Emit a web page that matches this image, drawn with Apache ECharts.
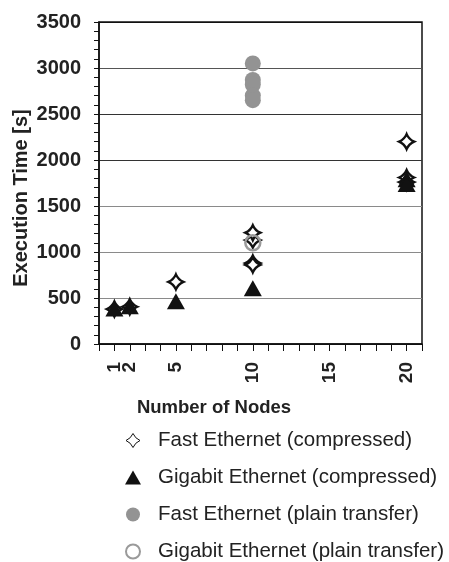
<!DOCTYPE html>
<html>
<head>
<meta charset="utf-8">
<script src="https://cdn.jsdelivr.net/npm/echarts@6/dist/echarts.min.js"></script>
<style>
  html, body { margin: 0; padding: 0; background: #fff; }
  #main { width: 449px; height: 562px; }
</style>
</head>
<body>
<div id="main"></div>
<script>
// [nodes, seconds]
var fastCompressed = [[1, 380], [2, 405], [5, 675], [10, 1130], [10, 1210], [10, 880], [10, 860], [20, 2200], [20, 1810], [20, 1760]];
var gigaCompressed = [[1, 385], [2, 410], [5, 465], [10, 605], [20, 1790], [20, 1740]];
var fastPlain = [[10, 3050], [10, 2870], [10, 2820], [10, 2700], [10, 2650]];
var gigaPlain = [[10, 1100]];
var xLabels = [1, 2, 5, 10, 15, 20];

var starPath = 'path://M0,-10 Q3,-3 10,0 Q3,3 0,10 Q-3,3 -10,0 Q-3,-3 0,-10 Z';
var font = 'Liberation Sans, Arial, sans-serif';

var myChart = echarts.init(document.getElementById('main'));
var option = {
  animation: false,
  textStyle: { fontFamily: font },
  grid: {
    left: 99, right: 27, top: 22, bottom: 218,
    show: true, borderColor: '#111', borderWidth: 1.5, backgroundColor: '#fff'
  },
  graphic: [
    {
      type: 'text', x: 21, y: 198, rotation: Math.PI / 2,
      style: { text: 'Execution Time [s]', font: 'bold 20px ' + font, fill: '#222', align: 'center', verticalAlign: 'middle' }
    },
    {
      type: 'text', x: 214, y: 408,
      style: { text: 'Number of Nodes', font: 'bold 18.5px ' + font, fill: '#222', align: 'center', verticalAlign: 'middle' }
    }
  ],
  xAxis: {
    type: 'value', min: 0, max: 21, interval: 1,
    axisLine: { lineStyle: { color: '#111', width: 1.5 } },
    axisTick: { show: true, length: 7, lineStyle: { color: '#111', width: 1 } },
    splitLine: { show: false },
    axisLabel: {
      rotate: 90, margin: 18, color: '#222', fontWeight: 'bold', fontSize: 19,
      formatter: function (v) { return xLabels.indexOf(v) >= 0 ? String(v) : ''; }
    }
  },
  yAxis: {
    type: 'value', min: 0, max: 3500, interval: 500,
    axisLine: { show: true, lineStyle: { color: '#111', width: 1.5 } },
    axisTick: { show: true, length: 5, lineStyle: { color: '#111' } },
    minorTick: { show: true, splitNumber: 5, length: 5, lineStyle: { color: '#111' } },
    splitLine: {
      show: true,
      lineStyle: { color: ['#111', '#8a8a8a', '#8a8a8a', '#8a8a8a', '#333', '#333', '#555', '#111'], width: 1.2 }
    },
    axisLabel: {
      margin: 18, color: '#222', fontWeight: 'bold', fontSize: 20,
      formatter: function (v) { return String(v); }
    }
  },
  legend: {
    orient: 'vertical', left: 120, top: 425, height: 140, itemGap: 16,
    itemWidth: 16, itemHeight: 14,
    textStyle: { fontSize: 20.5, color: '#222', fontFamily: font, padding: [0, 0, 0, 12] },
    data: [
      { name: 'Fast Ethernet (compressed)', itemStyle: { borderWidth: 1 } },
      'Gigabit Ethernet (compressed)',
      'Fast Ethernet (plain transfer)',
      'Gigabit Ethernet (plain transfer)'
    ]
  },
  series: [
    {
      name: 'Fast Ethernet (compressed)', type: 'scatter', data: fastCompressed,
      symbol: starPath, symbolSize: 15,
      itemStyle: { color: '#fff', borderColor: '#111', borderWidth: 2.4, opacity: 1 }
    },
    {
      name: 'Gigabit Ethernet (compressed)', type: 'scatter', data: gigaCompressed,
      symbol: 'triangle', symbolSize: [18, 16],
      itemStyle: { color: '#111', opacity: 1 }
    },
    {
      name: 'Fast Ethernet (plain transfer)', type: 'scatter', data: fastPlain,
      symbol: 'circle', symbolSize: 16,
      itemStyle: { color: '#939393', opacity: 1 }
    },
    {
      name: 'Gigabit Ethernet (plain transfer)', type: 'scatter', data: gigaPlain,
      symbol: 'circle', symbolSize: 15,
      itemStyle: { color: 'transparent', borderColor: '#9a9a9a', borderWidth: 2.5, opacity: 1 }
    }
  ]
};
myChart.setOption(option);
</script>
</body>
</html>
